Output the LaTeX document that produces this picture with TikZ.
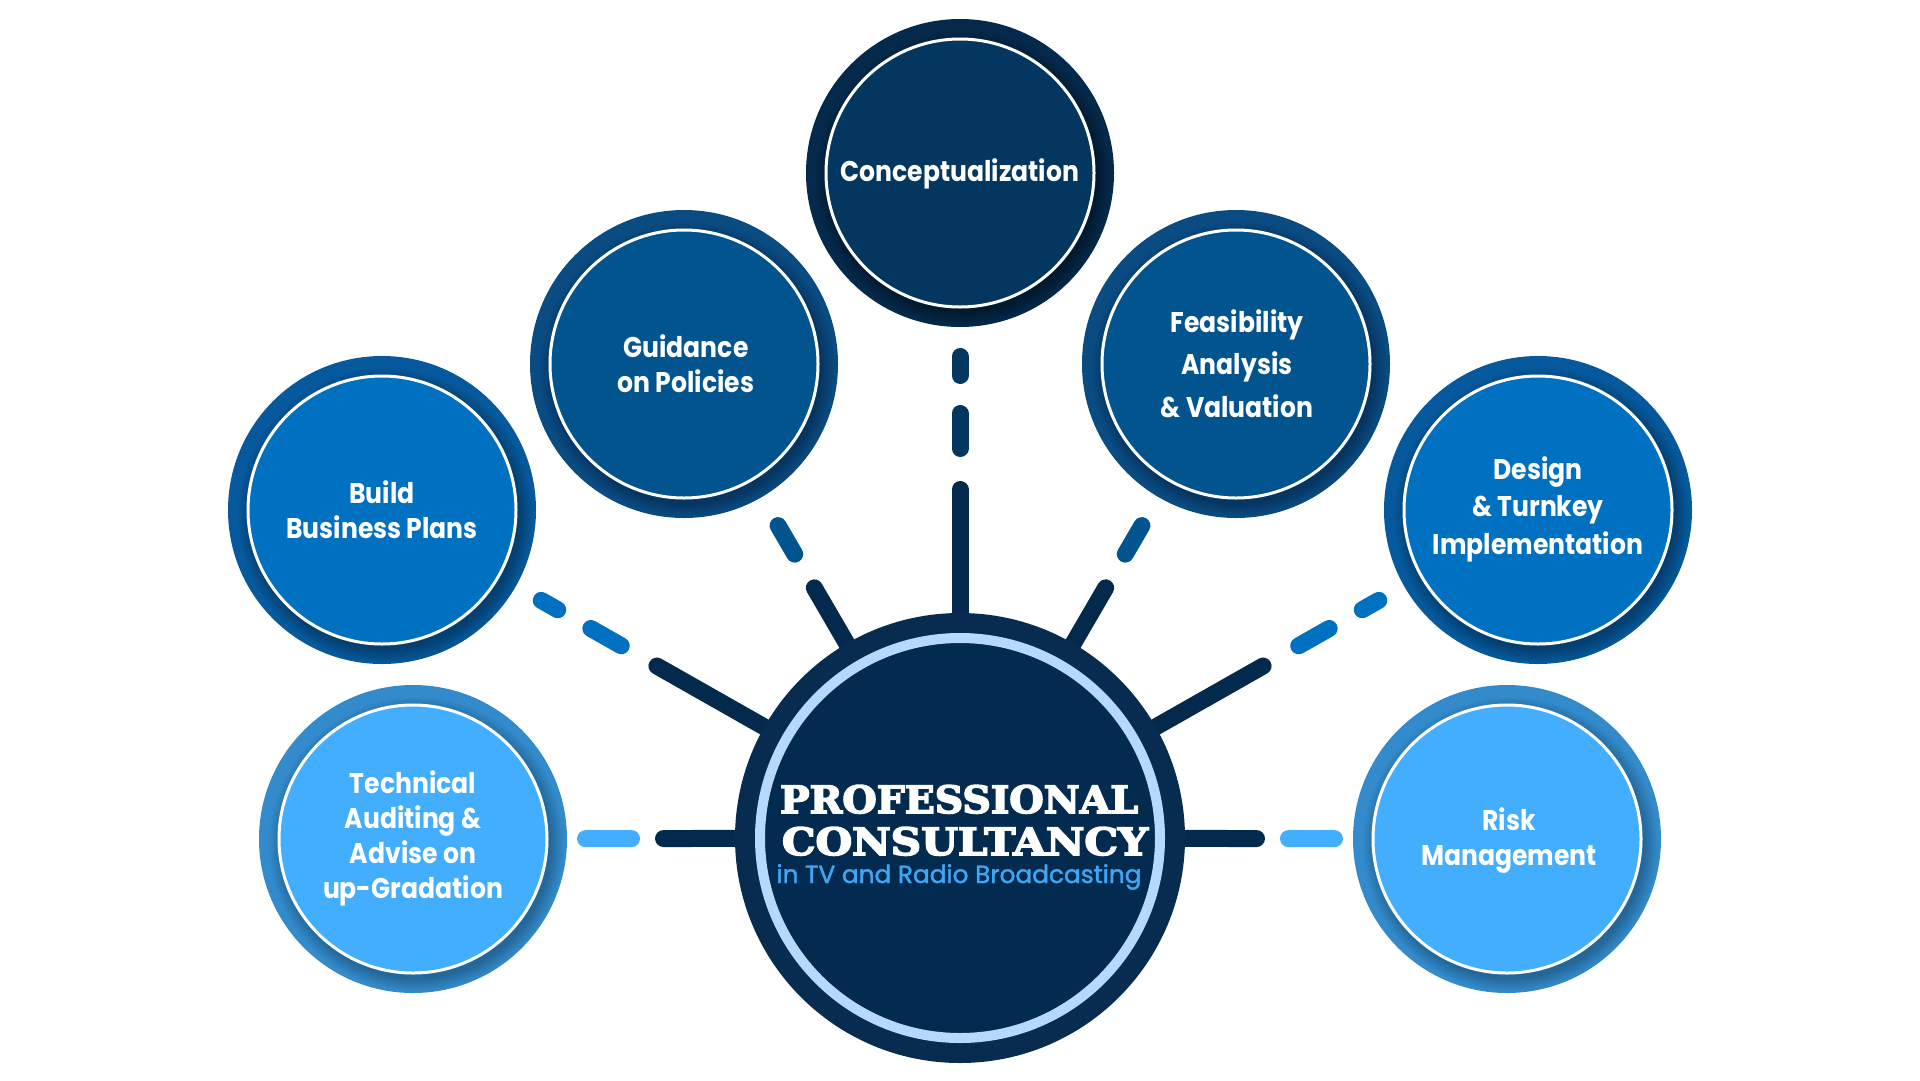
\documentclass[tikz,border=0pt]{standalone}
\usepackage{fontspec}
\usepackage{graphicx}
\usetikzlibrary{calc,backgrounds}
\newfontfamily\satfont{Poppins}[FakeStretch=0.88]
\newfontfamily\slabfont{DejaVu Serif}[BoldFeatures={FakeBold=4}]
\newfontfamily\subfont{Poppins}[FakeBold=1.5]
\definecolor{navy}{HTML}{032A4C}
\definecolor{cring}{HTML}{072C4F}
\definecolor{cfill}{HTML}{032B4F}
\definecolor{clight}{HTML}{B5D8FB}
\definecolor{subblue}{HTML}{3DA7F5}
\definecolor{ringA}{HTML}{05294B}\definecolor{fillA}{HTML}{04375F}\definecolor{shadA}{HTML}{021A30}
\definecolor{ringB}{HTML}{0A4B82}\definecolor{fillB}{HTML}{02548F}\definecolor{shadB}{HTML}{053560}
\definecolor{ringC}{HTML}{05599C}\definecolor{fillC}{HTML}{0070C0}\definecolor{shadC}{HTML}{043F70}
\definecolor{ringD}{HTML}{338BCB}\definecolor{fillD}{HTML}{42AEFD}\definecolor{shadD}{HTML}{24679A}
\colorlet{shadowc}{black}\colorlet{ringc}{blue}
\pgfdeclareradialshading[shadowc,ringc]{ringshadow}{\pgfpointorigin}{color(0bp)=(shadowc); color(22.6bp)=(shadowc); color(25bp)=(ringc); color(50bp)=(ringc)}
\tikzset{
  satring/.style={circle, inner sep=0pt, minimum size=308pt},
  satdisc/.style={circle, inner sep=0pt, minimum size=268pt, draw=white, line width=3pt},
  sattext/.style={anchor=base, inner sep=0pt, align=center, text=white, font=\satfont\bfseries\fontsize{28.5}{35}\selectfont},
  link/.style={line width=17pt, line cap=round},
}
\newcommand\satnode[4]{%
  \node[satring, fill=ring#4] (#1) at (#2,#3) {};
  \colorlet{ringc}{ring#4}\colorlet{shadowc}{shad#4}%
  \shade[shading=ringshadow] ($(#1)+(3,5)$) circle[radius=148];
  \node[satdisc, fill=fill#4] (#1-in) at (#2,#3) {};
}
\newcommand\twodash[2]{%
  \draw[link, draw=navy] (center) -- ($(center)!348.5pt!(#1)$);
  \draw[link, draw=#2] ($(center)!389.5pt!(#1)$) -- ($(center)!424.5pt!(#1)$);
  \draw[link, draw=#2] ($(center)!462.5pt!(#1)$) -- ($(center)!481.5pt!(#1)$);
}
\newcommand\onedash[5]{%
  \draw[link, draw=navy] (center) -- ($(center)!#3pt!(#1)$);
  \draw[link, draw=#2] ($(center)!#4pt!(#1)$) -- ($(center)!#5pt!(#1)$);
}
\begin{document}
\begin{tikzpicture}[x=1pt,y=-1pt]
\useasboundingbox (0,0) rectangle (1920,1080);
% centre
\node[circle, inner sep=0pt, minimum size=450pt, fill=cring] (center) at (960,838) {};
\node[circle, inner sep=0pt, minimum size=400pt, fill=cfill, draw=clight, line width=10pt] (center-in) at (960,838) {};
\node[anchor=base, inner sep=0pt, text=white, font=\slabfont\bfseries] (t1) at (959,813) {\resizebox{358pt}{28pt}{PROFESSIONAL}};
\node[anchor=base, inner sep=0pt, text=white, font=\slabfont\bfseries] (t2) at (965,855) {\resizebox{366pt}{28pt}{CONSULTANCY}};
\node[anchor=base, inner sep=0pt, text=subblue, font=\subfont\fontsize{24}{28}\selectfont] (t3) at (959,883) {\resizebox{365pt}{!}{in TV and Radio Broadcasting}};
% satellites
\satnode{concept}{960}{173}{A}
\satnode{guid}{684}{364}{B}
\satnode{feas}{1236}{364}{B}
\satnode{build}{382}{510}{C}
\satnode{design}{1538}{510}{C}
\satnode{tech}{413}{839}{D}
\satnode{risk}{1507}{839}{D}
% labels (anchor base = last line baseline)
\node[sattext] (concept-t) at (960,181) {Conceptualization};
\node[sattext] (guid-t) at (686,392) {Guidance\\on Policies};
\node[sattext, font=\satfont\bfseries\fontsize{28.5}{42.5}\selectfont] (feas-t) at (1237,417) {Feasibility\\Analysis\\\& Valuation};
\node[sattext] (build-t) at (382,538) {Build\\Business Plans};
\node[sattext, font=\satfont\bfseries\fontsize{28.5}{37.5}\selectfont] (design-t) at (1538,554) {Design\\\& Turnkey\\Implementation};
\node[sattext] (tech-t) at (413,898) {Technical\\Auditing \&\\Advise on\\up-Gradation};
\node[sattext] (risk-t) at (1509,865) {Risk\\Management};
% connectors
\begin{pgfonlayer}{background}
\fill[white] (0,0) rectangle (1920,1080);
\twodash{concept}{fillA}
\twodash{build}{fillC}
\twodash{design}{fillC}
\onedash{guid}{fillB}{289.5}{328.5}{361.5}
\onedash{feas}{fillB}{289.5}{328.5}{361.5}
\onedash{tech}{fillD}{296.5}{328.5}{374.5}
\onedash{risk}{fillD}{296.5}{328.5}{374.5}
\end{pgfonlayer}
\end{tikzpicture}
\end{document}
